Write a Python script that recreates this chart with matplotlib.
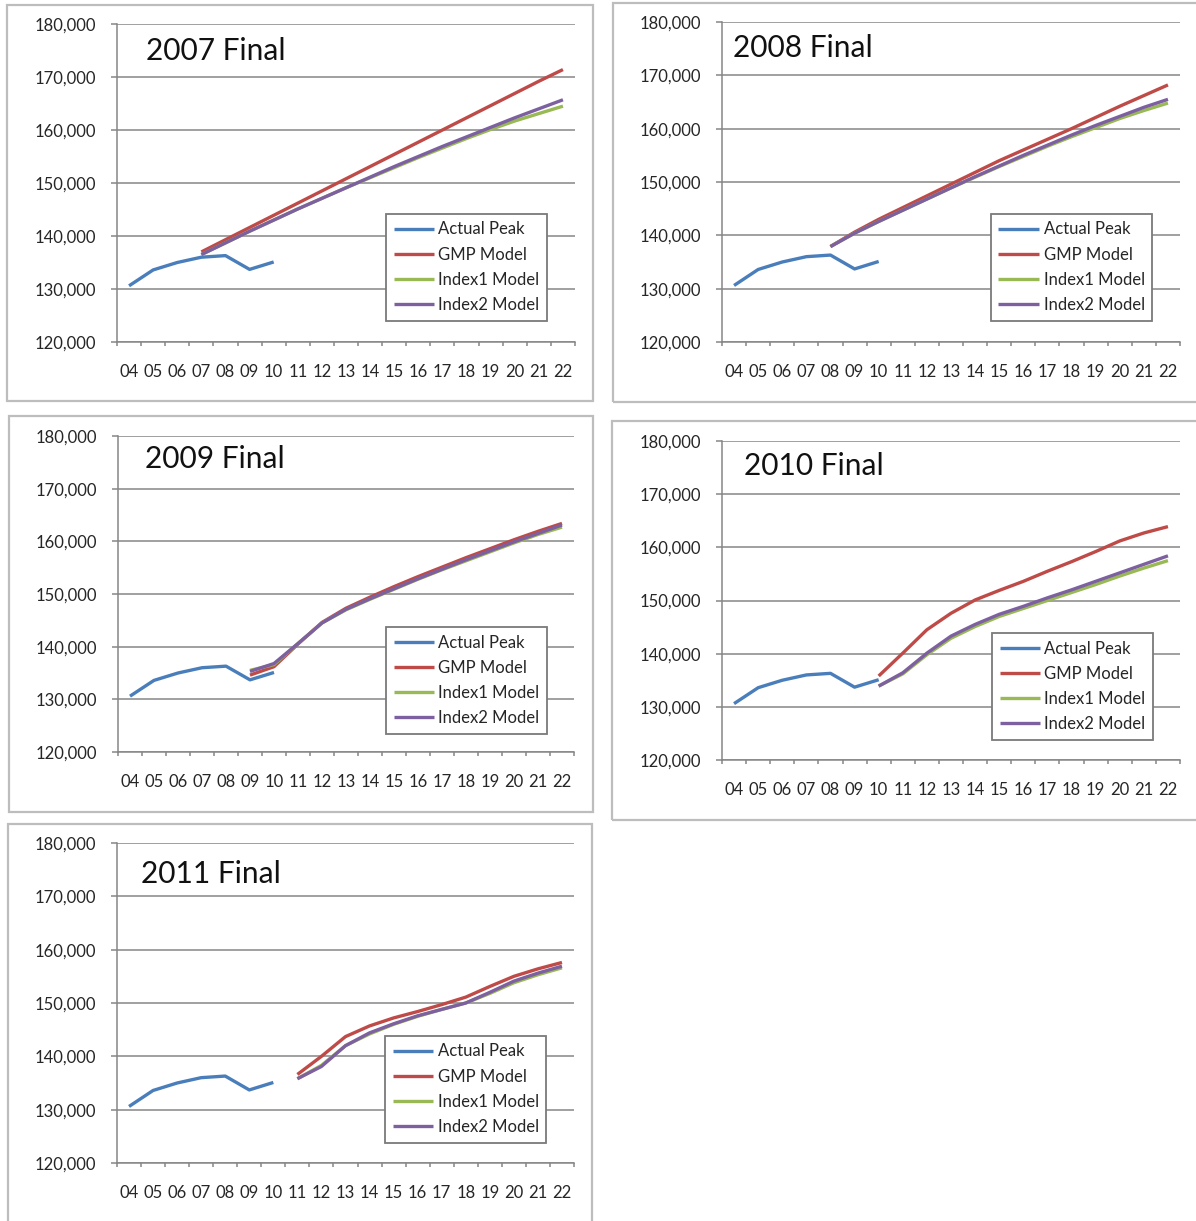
import matplotlib
matplotlib.use("Agg")
import matplotlib.pyplot as plt
import numpy as np
from matplotlib.patches import Rectangle
from matplotlib.ticker import FuncFormatter, FixedLocator

# ---------------- data ----------------
years = ["04", "05", "06", "07", "08", "09", "10", "11", "12", "13",
         "14", "15", "16", "17", "18", "19", "20", "21", "22"]

actual_peak = [130600, 133600, 135000, 136000, 136300, 133700, 135100]  # 04..10

# 2007 Final (models 07..22)
gmp_2007 = [137000, 139300, 141600, 143900, 146200, 148500, 150800, 153100,
            155400, 157700, 160000, 162300, 164600, 166900, 169200, 171400]
idx1_2007 = [136500, 138700, 140900, 143000, 145100, 147100, 149100, 151000,
             152900, 154800, 156600, 158400, 160100, 161700, 163100, 164500]
idx2_2007 = [136500, 138700, 140900, 143000, 145100, 147100, 149100, 151100,
             153100, 155000, 156900, 158700, 160500, 162300, 164000, 165700]

# 2008 Final (models 08..22)
gmp_2008 = [137900, 140600, 143000, 145200, 147400, 149600, 151800, 154000,
            156000, 158000, 160000, 162100, 164200, 166200, 168200]
idx1_2008 = [137900, 140400, 142600, 144700, 146800, 148900, 150900, 152900,
             154800, 156700, 158500, 160200, 161900, 163400, 164800]
idx2_2008 = [137900, 140400, 142600, 144700, 146800, 148900, 151000, 153000,
             155000, 156900, 158800, 160600, 162300, 164000, 165500]

# 2009 Final (models 09..22)
gmp_2009 = [134600, 136200, 140500, 144600, 147300, 149400, 151400, 153300,
            155100, 156900, 158600, 160300, 161900, 163400]
idx1_2009 = [135500, 136600, 140600, 144500, 147000, 149000, 150900, 152800,
             154600, 156300, 158000, 159700, 161300, 162700]
idx2_2009 = [135300, 136800, 140600, 144500, 147100, 149100, 151000, 152900,
             154700, 156500, 158200, 159900, 161500, 163100]

# 2010 Final (models 10..22)
gmp_2010 = [135800, 140100, 144500, 147600, 150100, 151900, 153600, 155500,
            157300, 159200, 161200, 162700, 163900]
idx1_2010 = [133900, 136200, 139800, 142900, 145100, 147000, 148500, 150000,
             151500, 153000, 154600, 156100, 157500]
idx2_2010 = [133900, 136400, 140100, 143300, 145500, 147400, 148900, 150500,
             152000, 153600, 155200, 156800, 158400]

# 2011 Final (models 11..22)
gmp_2011 = [136600, 140000, 143700, 145700, 147200, 148400, 149700, 151100,
            153100, 155000, 156400, 157600]
idx1_2011 = [135800, 138300, 142000, 144200, 146000, 147500, 148800, 150000,
             151800, 153800, 155300, 156600]
idx2_2011 = [135800, 138100, 142000, 144400, 146100, 147600, 148800, 150000,
             152000, 154100, 155600, 156900]

titles = ["2007 Final", "2008 Final", "2009 Final", "2010 Final", "2011 Final"]
model_start = ["07", "08", "09", "10", "11"]
gmp_all = [gmp_2007, gmp_2008, gmp_2009, gmp_2010, gmp_2011]
idx1_all = [idx1_2007, idx1_2008, idx1_2009, idx1_2010, idx1_2011]
idx2_all = [idx2_2007, idx2_2008, idx2_2009, idx2_2010, idx2_2011]
series_names = ["Actual Peak", "GMP Model", "Index1 Model", "Index2 Model"]
yticks = [120000, 130000, 140000, 150000, 160000, 170000, 180000]

# ---------------- layout (pixels) ----------------
W, H = 1196, 1221
frames = [(7, 5, 593, 401), (613, 3, 1200, 402), (9, 416, 593, 812),
          (612, 421, 1200, 820), (8, 824, 592, 1225)]
axes_px = [(117, 24, 575, 342), (722, 22, 1180, 342), (118, 436, 574, 752),
           (722, 441, 1180, 760), (117, 843, 574, 1163)]
title_px = [(146, 51), (733, 48), (145, 459), (744, 466), (141, 874)]
legend_px = [(386, 214), (991, 214), (386, 627), (992, 633), (385, 1036)]

colors = ["#4A7EBB", "#BE4B48", "#98B954", "#7D60A0"]
grid_c = "#868686"
text_c = "#262626"

plt.rcParams["font.family"] = ["Lato", "DejaVu Sans"]

fig = plt.figure(figsize=(W / 100, H / 100), dpi=100)


def fr(l, t, r, b):
    return [l / W, 1 - b / H, (r - l) / W, (b - t) / H]


x_all = np.arange(len(years))
for k in range(5):
    l, t, r, b = frames[k]
    fig.add_artist(Rectangle((l / W, 1 - b / H), (r - l) / W, (b - t) / H,
                             transform=fig.transFigure, fill=False,
                             edgecolor="#BDBDBD", lw=1.6))
    ax = fig.add_axes(fr(*axes_px[k]))
    s = years.index(model_start[k])
    xm = x_all[s:]
    lw = 2.4
    kw = dict(lw=lw, solid_joinstyle="round", solid_capstyle="butt")
    ax.plot(x_all[:len(actual_peak)], actual_peak, color=colors[0],
            label=series_names[0], **kw)
    ax.plot(xm, gmp_all[k], color=colors[1], label=series_names[1], **kw)
    ax.plot(xm, idx1_all[k], color=colors[2], label=series_names[2], **kw)
    ax.plot(xm, idx2_all[k], color=colors[3], label=series_names[3], **kw)

    ax.set_xlim(-0.5, len(years) - 0.5)
    ax.set_ylim(yticks[0], yticks[-1])
    ax.set_yticks(yticks)
    ax.yaxis.set_major_formatter(FuncFormatter(lambda v, p: f"{int(v):,}"))
    ax.yaxis.grid(True, color=grid_c, lw=1.1)
    ax.set_axisbelow(True)
    for sp in ["top", "right"]:
        ax.spines[sp].set_visible(False)
    for sp in ["left", "bottom"]:
        ax.spines[sp].set_color(grid_c)
        ax.spines[sp].set_linewidth(1.1)
    ax.tick_params(axis="y", direction="out", length=4, width=1.1,
                   color=grid_c, pad=11, labelsize=12, labelcolor=text_c)
    ax.set_xticks(x_all)
    ax.set_xticklabels(years)
    ax.xaxis.set_minor_locator(FixedLocator(np.arange(-0.5, len(years), 1.0)))
    ax.tick_params(axis="x", which="major", length=0, pad=16,
                   labelsize=12, labelcolor=text_c)
    ax.tick_params(axis="x", which="minor", direction="out", length=3,
                   width=1.1, color=grid_c)

    tx, ty = title_px[k]
    fig.text(tx / W, 1 - ty / H, titles[k], fontsize=21.5, color="#111111",
             ha="left", va="center")

    lx, ly = legend_px[k]
    leg = ax.legend(loc="upper left", bbox_to_anchor=(lx / W, 1 - ly / H),
                    bbox_transform=fig.transFigure, fancybox=False,
                    edgecolor="#7A7A7A", framealpha=1, fontsize=12,
                    handlelength=2.45, handletextpad=0.25, labelspacing=0.55,
                    borderpad=0.45, borderaxespad=0)
    leg.get_frame().set_linewidth(1.3)
    for txt in leg.get_texts():
        txt.set_color(text_c)

fig.savefig("out.png", dpi=100)
